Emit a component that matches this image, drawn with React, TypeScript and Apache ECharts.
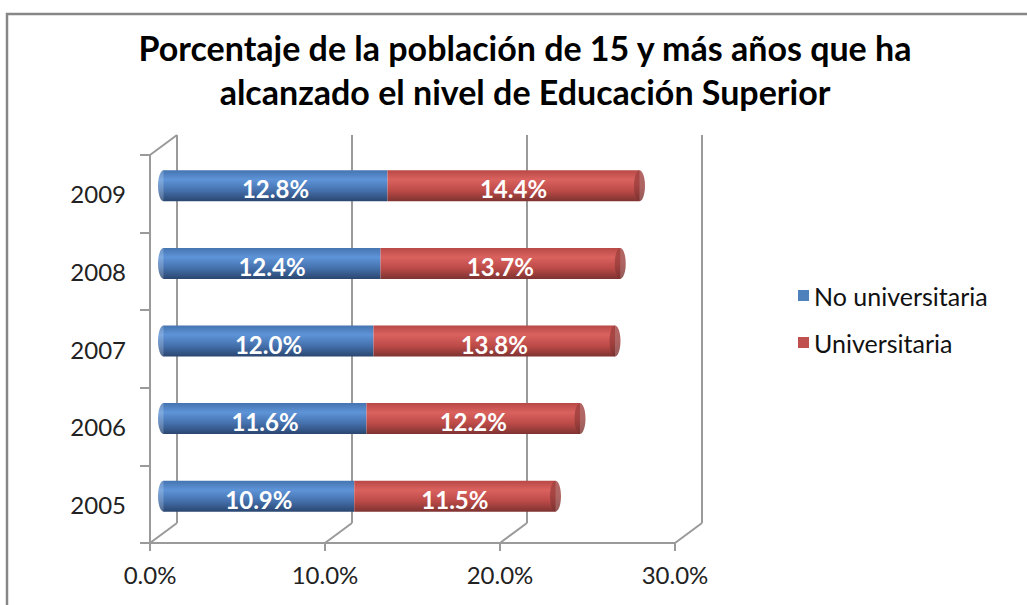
import React, { useEffect, useRef } from "react";
import * as echarts from "echarts";

const years = ["2005", "2006", "2007", "2008", "2009"];
const noUniversitaria = [10.9, 11.6, 12.0, 12.4, 12.8];
const universitaria = [11.5, 12.2, 13.8, 13.7, 14.4];
const xTicks = [0, 10, 20, 30];

const FONT = "Lato, 'DejaVu Sans', sans-serif";

// layout constants (3D frame)
const FRONT_LEFT = 150;
const FRONT_TOP = 155;
const FRONT_W = 525;
const FRONT_H = 388;
const DX = 27;
const DY = -20;

export default function App() {
  const ref = useRef<HTMLDivElement>(null);
  useEffect(() => {
    const chart = echarts.init(ref.current!, undefined, { renderer: "svg" });
    const totals = years.map((_, i) => +(noUniversitaria[i] + universitaria[i]).toFixed(1));

    const blueGrad = new echarts.graphic.LinearGradient(0, 0, 0, 1, [
      { offset: 0, color: "#4574b0" },
      { offset: 0.3, color: "#5e94d8" },
      { offset: 0.65, color: "#4571ad" },
      { offset: 1, color: "#2a4670" },
    ]);
    const redGrad = new echarts.graphic.LinearGradient(0, 0, 0, 1, [
      { offset: 0, color: "#b84946" },
      { offset: 0.3, color: "#da625f" },
      { offset: 0.65, color: "#bd4b48" },
      { offset: 1, color: "#7e3331" },
    ]);
    const capGrad = new echarts.graphic.LinearGradient(0, 0, 0, 1, [
      { offset: 0, color: "#a2423f" },
      { offset: 0.5, color: "#9a3e3c" },
      { offset: 1, color: "#7a3230" },
    ]);

    const frameLines: any[] = [];
    const lineStyle = { stroke: "#9a9a9a", lineWidth: 2 };
    xTicks.forEach((_, k) => {
      const x = FRONT_LEFT + (k * FRONT_W) / (xTicks.length - 1);
      frameLines.push({
        type: "line",
        shape: { x1: x, y1: FRONT_TOP + FRONT_H, x2: x + DX, y2: FRONT_TOP + FRONT_H + DY },
        style: lineStyle,
        z: 1,
      });
    });
    frameLines.push({
      type: "line",
      shape: { x1: FRONT_LEFT, y1: FRONT_TOP, x2: FRONT_LEFT + DX, y2: FRONT_TOP + DY },
      style: lineStyle,
      z: 1,
    });

    const labelFmt = (p: any) => Number(p.value).toFixed(1) + "%";

    chart.setOption({
      animation: false,
      backgroundColor: "#ffffff",
      title: {
        text: "Porcentaje de la población de 15 y más años que ha\nalcanzado el nivel de Educación Superior",
        left: 520,
        textAlign: "center",
        top: 20,
        textStyle: {
          fontFamily: FONT,
          fontWeight: "bold",
          fontSize: 34,
          lineHeight: 44,
          color: "#000",
        },
      },
      legend: {
        orient: "vertical",
        left: 793,
        top: 278,
        itemWidth: 11,
        itemHeight: 11,
        itemGap: 22,
        icon: "rect",
        textStyle: { fontFamily: FONT, fontSize: 25, color: "#111" },
        data: [
          { name: "No universitaria", itemStyle: { color: "#4f81bd" } },
          { name: "Universitaria", itemStyle: { color: "#c0504d" } },
        ],
      },
      graphic: [
        {
          type: "rect",
          shape: { x: 7, y: 14, width: 1200, height: 800 },
          style: { fill: "none", stroke: "#878787", lineWidth: 2.5 },
          z: 0,
        },
        ...frameLines,
      ],
      grid: [
        { left: FRONT_LEFT + DX / 2, top: FRONT_TOP + DY / 2 + 2, width: FRONT_W, height: FRONT_H, containLabel: false },
        { left: FRONT_LEFT, top: FRONT_TOP, width: FRONT_W, height: FRONT_H, containLabel: false },
        { left: FRONT_LEFT + DX, top: FRONT_TOP + DY, width: FRONT_W, height: FRONT_H, containLabel: false },
      ],
      xAxis: [
        { gridIndex: 0, type: "value", min: 0, max: 30, show: false },
        {
          gridIndex: 1,
          type: "value",
          min: 0,
          max: 30,
          interval: 10,
          axisLine: { show: true, lineStyle: { color: "#9a9a9a", width: 2 } },
          axisTick: { show: true, length: 8, lineStyle: { color: "#9a9a9a", width: 2 } },
          splitLine: { show: false },
          axisLabel: {
            margin: 19,
            fontFamily: FONT,
            fontSize: 24,
            color: "#222",
            formatter: (v: number) => v.toFixed(1) + "%",
          },
        },
        {
          gridIndex: 2,
          type: "value",
          min: 0,
          max: 30,
          interval: 10,
          axisLine: { show: false },
          axisTick: { show: false },
          axisLabel: { show: false },
          splitLine: { show: true, lineStyle: { color: "#9a9a9a", width: 2 } },
        },
      ],
      yAxis: [
        { gridIndex: 0, type: "category", data: years, show: false },
        {
          gridIndex: 1,
          type: "category",
          data: years,
          axisLine: { show: true, lineStyle: { color: "#9a9a9a", width: 2 } },
          axisTick: { show: true, length: 10, lineStyle: { color: "#9a9a9a", width: 2 } },
          splitLine: { show: false },
          axisLabel: { margin: 24, fontFamily: FONT, fontSize: 24, color: "#222" },
        },
        { gridIndex: 2, type: "category", data: years, show: false },
      ],
      series: [
        {
          type: "scatter",
          xAxisIndex: 0,
          yAxisIndex: 0,
          symbol: "circle",
          symbolSize: [11, 31],
          itemStyle: { color: blueGrad },
          data: years.map((y) => [0, y]),
          silent: true,
          z: 3,
        },
        {
          name: "No universitaria",
          type: "bar",
          stack: "total",
          xAxisIndex: 0,
          yAxisIndex: 0,
          barWidth: 31,
          itemStyle: { color: blueGrad },
          label: {
            show: true,
            position: "inside",
            offset: [0, 3],
            formatter: labelFmt,
            color: "#fff",
            fontFamily: FONT,
            fontWeight: "bold",
            fontSize: 24,
          },
          data: noUniversitaria,
          z: 4,
        },
        {
          name: "Universitaria",
          type: "bar",
          stack: "total",
          xAxisIndex: 0,
          yAxisIndex: 0,
          barWidth: 31,
          itemStyle: { color: redGrad },
          label: {
            show: true,
            position: "inside",
            offset: [0, 3],
            formatter: labelFmt,
            color: "#fff",
            fontFamily: FONT,
            fontWeight: "bold",
            fontSize: 24,
          },
          data: universitaria,
          z: 4,
        },
        {
          type: "scatter",
          xAxisIndex: 0,
          yAxisIndex: 0,
          symbol: "circle",
          symbolSize: [11, 31],
          itemStyle: { color: capGrad },
          data: years.map((y, i) => [totals[i], y]),
          silent: true,
          z: 5,
        },
      ],
    });
    return () => chart.dispose();
  }, []);
  return (
    <div
      ref={ref}
      style={{ position: "fixed", left: 0, top: 0, width: 1027, height: 605 }}
    />
  );
}
